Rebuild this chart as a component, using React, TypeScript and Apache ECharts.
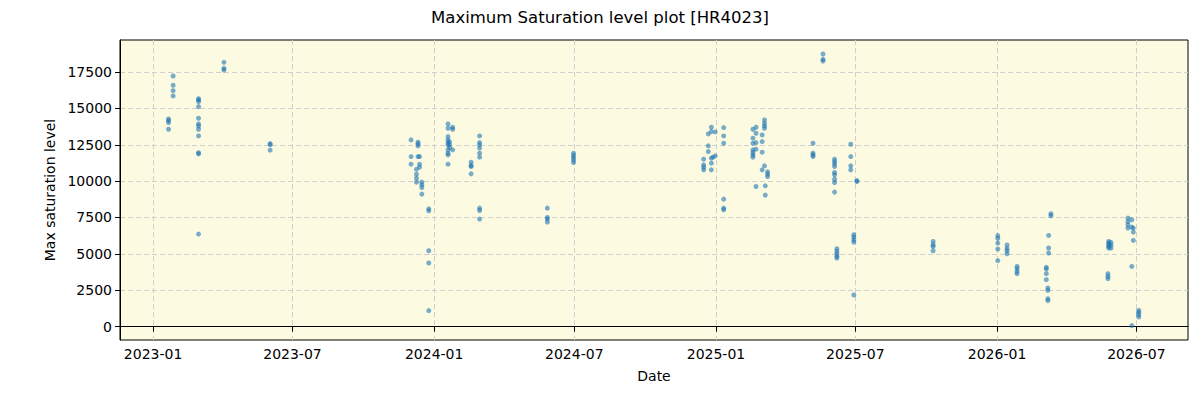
import React, { useEffect, useRef } from "react";
import * as echarts from "echarts";

const titleText = "Maximum Saturation level plot [HR4023]";
const xAxisName = "Date";
const yAxisName = "Max saturation level";

const xTickDates = ["2023-01-01", "2023-07-01", "2024-01-01", "2024-07-01", "2025-01-01", "2025-07-01", "2026-01-01", "2026-07-01"];
const yTicks = [0, 2500, 5000, 7500, 10000, 12500, 15000, 17500];

const obsDates = [
  "2023-01-21", "2023-01-27", "2023-03-01", "2023-04-03", "2023-06-02",
  "2023-12-02", "2023-12-09", "2023-12-11", "2023-12-13", "2023-12-16", "2023-12-25",
  "2024-01-19", "2024-01-21", "2024-01-25", "2024-02-18", "2024-02-29", "2024-05-27", "2024-06-30",
  "2024-12-16", "2024-12-22", "2024-12-26", "2024-12-28", "2024-12-31",
  "2025-01-11", "2025-02-18", "2025-02-22", "2025-03-02", "2025-03-05", "2025-03-06", "2025-03-09",
  "2025-05-07", "2025-05-20", "2025-06-04", "2025-06-07", "2025-06-25", "2025-06-29", "2025-07-03",
  "2025-10-10", "2026-01-02", "2026-01-14", "2026-01-27",
  "2026-03-06", "2026-03-08", "2026-03-09", "2026-03-12",
  "2026-05-25", "2026-05-26", "2026-05-29", "2026-06-20", "2026-06-25", "2026-06-27", "2026-07-04",
];

const satValues = [
  [14275, 14160, 14022, 13565],
  [17226, 16588, 16218, 15854],
  [15668, 15579, 15462, 15119, 14322, 13932, 13795, 13568, 13108, 11950, 11873, 6362],
  [18166, 17755, 17638],
  [12580, 12500, 12127],
  [12834, 11688, 11166],
  [10823, 10480, 10206, 9931],
  [12676, 12560, 12422, 11688],
  [11688, 11166, 10960],
  [9931, 9745, 9560, 9107],
  [8098, 7961, 5216, 4372, 1098],
  [13932, 13635, 13060, 12834, 12650, 12490, 12148, 11922, 11804, 11166],
  [12700, 12500, 12300],
  [13703, 13568, 12148],
  [11303, 11074, 11006, 10500],
  [13108, 12650, 12490, 12264, 11922, 11647, 8144, 7982, 7392],
  [8144, 7500, 7392, 7186],
  [11922, 11756, 11620, 11460, 11280],
  [11510, 11118, 10960, 10775],
  [13246, 12422, 12031],
  [13703, 13406, 11578, 11235, 10775],
  [11647],
  [11736, 13383],
  [13680, 13108, 12605, 8762, 8144, 8030],
  [13568, 12950, 12605, 12148, 11965, 11804, 11647],
  [13703, 13292, 12650, 12195, 9630],
  [13177, 12720, 11990, 10775],
  [14206, 13980, 13795, 13635, 11050],
  [9677, 9039],
  [10637, 10480, 10315],
  [12605, 11922, 11804, 11688],
  [18736, 18372, 18256],
  [11510, 11345, 11187, 11006, 10594, 10437, 10136, 9904, 9245],
  [5353, 5168, 4990, 4825, 4715],
  [12536, 11688, 11050, 10775],
  [6314, 6156, 5971, 5813, 2175],
  [10040, 9972],
  [5854, 5628, 5511, 5216],
  [6245, 6060, 5744, 5333, 4530],
  [5607, 5374, 5216, 5010],
  [4138, 3980, 3795, 3637],
  [4070, 3960, 3637, 3226],
  [2656, 2491, 1922, 1784],
  [6266, 5401, 5058],
  [7757, 7618],
  [3637, 3452, 3294],
  [5854, 5744, 5628, 5511, 5401],
  [5790, 5600, 5400],
  [7460, 7227, 7000, 6774],
  [7343, 6842, 4138, 69],
  [6774, 6500, 5923],
  [1119, 981, 824, 666],
];

const xMinDate = "2022-11-19";
const xMaxDate = "2026-09-06";
const yMin = -920;
const yMax = 19700;

function fmtDate(v: number): string {
  const d = new Date(v);
  const m = d.getUTCMonth() + 1;
  return d.getUTCFullYear() + "-" + (m < 10 ? "0" + m : "" + m);
}

export default function App() {
  const ref = useRef<HTMLDivElement>(null);
  useEffect(() => {
    if (!ref.current) return;
    const chart = echarts.init(ref.current, null, { renderer: "svg" });
    const data: number[][] = [];
    obsDates.forEach((d, i) => {
      const t = Date.parse(d);
      satValues[i].forEach((v) => data.push([t, v]));
    });
    const xTicks = xTickDates.map((d) => Date.parse(d));
    const font = "DejaVu Sans";
    chart.setOption({
      animation: false,
      textStyle: { fontFamily: font },
      title: {
        text: titleText,
        left: "center",
        top: 4,
        textStyle: { fontFamily: font, fontSize: 16.5, fontWeight: "normal", color: "#000" },
      },
      grid: {
        left: 120,
        right: 12,
        top: 40,
        bottom: 60,
        show: true,
        backgroundColor: "#fcfbe1",
        borderColor: "#000",
        borderWidth: 1,
      },
      xAxis: {
        type: "value",
        min: Date.parse(xMinDate),
        max: Date.parse(xMaxDate),
        name: xAxisName,
        nameLocation: "middle",
        nameGap: 29,
        nameTextStyle: { fontFamily: font, fontSize: 14, color: "#000" },
        axisLine: { show: true, lineStyle: { color: "#000" } },
        axisTick: { show: true, customValues: xTicks, length: 5, lineStyle: { color: "#000" } },
        axisLabel: {
          customValues: xTicks,
          formatter: (v: number) => fmtDate(v),
          fontFamily: font,
          fontSize: 14,
          color: "#000",
          margin: 7,
        },
        splitLine: { show: true, lineStyle: { color: "#d0d0d0", type: [5, 3], width: 1 } },
      },
      yAxis: {
        type: "value",
        min: yMin,
        max: yMax,
        name: yAxisName,
        nameLocation: "middle",
        nameGap: 54,
        nameTextStyle: { fontFamily: font, fontSize: 14, color: "#000" },
        axisLine: { show: true, lineStyle: { color: "#000" } },
        axisTick: { show: true, customValues: yTicks, length: 5, lineStyle: { color: "#000" } },
        axisLabel: {
          customValues: yTicks,
          formatter: (v: number) => String(Math.round(v)),
          fontFamily: font,
          fontSize: 14,
          color: "#000",
          margin: 8,
        },
        splitLine: { show: true, lineStyle: { color: "#d0d0d0", type: [5, 3], width: 1 } },
      },
      series: [
        {
          type: "scatter",
          data,
          symbolSize: 5,
          itemStyle: { color: "#1f77b4", opacity: 0.6 },
        },
      ],
    });
    return () => chart.dispose();
  }, []);
  return <div ref={ref} style={{ position: "absolute", left: 0, top: 0, width: 1200, height: 400 }} />;
}
